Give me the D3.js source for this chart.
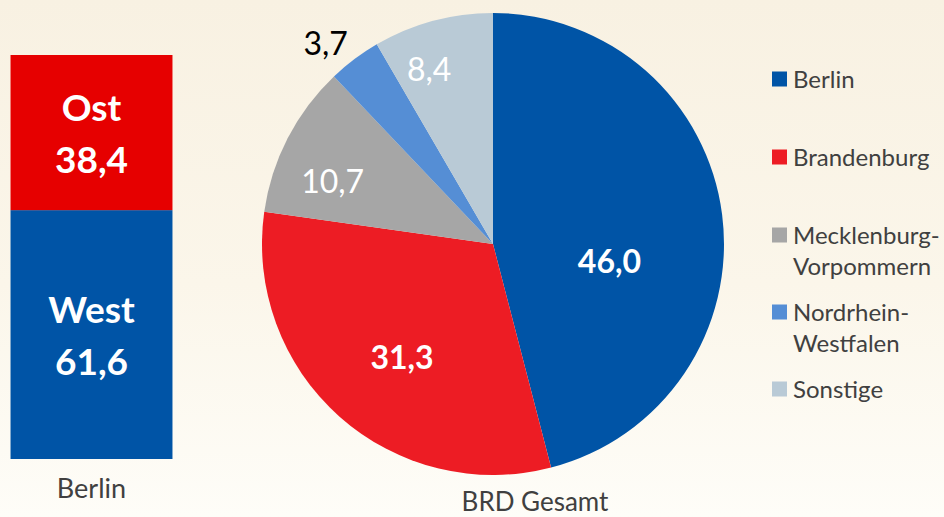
<!DOCTYPE html>
<html>
<head>
<meta charset="utf-8">
<script src="https://cdn.jsdelivr.net/npm/d3@7"></script>
<style>
  html, body { margin: 0; padding: 0; }
  body { width: 944px; height: 517px; overflow: hidden; }
  svg text { font-family: Lato, "Open Sans", sans-serif; }
</style>
</head>
<body>
<svg id="chart" width="944" height="517"></svg>
<script>
// stacked bar: Berlin
const barCategories = ["West", "Ost"];
const barValues = [61.6, 38.4];
const barLabel = "Berlin";

// pie: BRD Gesamt
const pieCategories = ["Berlin", "Brandenburg", "Mecklenburg-Vorpommern", "Nordrhein-Westfalen", "Sonstige"];
const pieValues = [46.0, 31.3, 10.7, 3.7, 8.4];
const pieLabel = "BRD Gesamt";

const legendLines = [["Berlin"], ["Brandenburg"], ["Mecklenburg-", "Vorpommern"], ["Nordrhein-", "Westfalen"], ["Sonstige"]];

const width = 944, height = 517;
const fmt = v => d3.format(".1f")(v).replace(".", ",");

const barColors = { West: "#0054a6", Ost: "#e60000" };
const pieColors = ["#0054a6", "#ed1c24", "#a6a6a6", "#558ed5", "#b9cad6"];

const svg = d3.select("#chart");

// background gradient
const defs = svg.append("defs");
const grad = defs.append("linearGradient").attr("id", "bg").attr("x1", 0).attr("y1", 0).attr("x2", 0).attr("y2", 1);
grad.append("stop").attr("offset", "0%").attr("stop-color", "#f8f1e2");
grad.append("stop").attr("offset", "55%").attr("stop-color", "#fbf6ea");
grad.append("stop").attr("offset", "100%").attr("stop-color", "#fefdf8");
svg.append("rect").attr("width", width).attr("height", height).attr("fill", "url(#bg)");

// ---- stacked bar
const y = d3.scaleLinear().domain([0, 100]).range([459, 55]);
const x = d3.scaleBand().domain([barLabel]).range([0, 183]).paddingInner(0).paddingOuter(0.065);

let acc = 0;
const stacked = barCategories.map((c, i) => {
  const d = { name: c, value: barValues[i], y0: acc, y1: acc + barValues[i] };
  acc += barValues[i];
  return d;
});

const bar = svg.append("g");
bar.selectAll("rect")
  .data(stacked)
  .enter()
  .append("rect")
  .attr("x", x(barLabel))
  .attr("width", x.bandwidth())
  .attr("y", d => y(d.y1))
  .attr("height", d => y(d.y0) - y(d.y1))
  .attr("fill", d => barColors[d.name]);

const barText = bar.selectAll("text.seg")
  .data(stacked)
  .enter()
  .append("text")
  .attr("class", "seg")
  .attr("text-anchor", "middle")
  .attr("fill", "white")
  .style("font-weight", "bold")
  .style("font-size", "37px");
barText.append("tspan")
  .attr("x", x(barLabel) + x.bandwidth() / 2)
  .attr("y", d => y((d.y0 + d.y1) / 2) - 12)
  .text(d => d.name);
barText.append("tspan")
  .attr("x", x(barLabel) + x.bandwidth() / 2)
  .attr("dy", 52)
  .text(d => fmt(d.value));

svg.append("text")
  .attr("x", x(barLabel) + x.bandwidth() / 2)
  .attr("y", 498)
  .attr("text-anchor", "middle")
  .attr("fill", "#404040")
  .style("font-size", "27px")
  .text(barLabel);

// ---- pie
const cx = 493, cy = 244, radius = 231;
const pie = d3.pie().sort(null).value(d => d);
const arc = d3.arc().innerRadius(0).outerRadius(radius);
const slices = pie(pieValues);

const g = svg.append("g").attr("transform", `translate(${cx},${cy})`);
g.selectAll("path")
  .data(slices)
  .enter()
  .append("path")
  .attr("d", arc)
  .attr("fill", (d, i) => pieColors[i]);

// label placement per slice: radius fraction and angle nudge (degrees)
const labelR = [0.51, 0.63, 0.745, 1.13, 0.805];
const labelTurn = [16, -3, -6, -3, -5];
const labelBold = [true, true, false, false, false];
const labelFill = ["white", "white", "white", "black", "white"];

g.selectAll("text.lbl")
  .data(slices)
  .enter()
  .append("text")
  .attr("class", "lbl")
  .attr("transform", (d, i) => {
    const a = (d.startAngle + d.endAngle) / 2 + labelTurn[i] * Math.PI / 180;
    const r = radius * labelR[i];
    return `translate(${r * Math.sin(a)},${-r * Math.cos(a)})`;
  })
  .attr("text-anchor", "middle")
  .attr("dy", "0.36em")
  .attr("fill", (d, i) => labelFill[i])
  .style("font-weight", (d, i) => labelBold[i] ? "bold" : "normal")
  .style("font-size", "32px")
  .text(d => fmt(d.data));

svg.append("text")
  .attr("x", 535)
  .attr("y", 511)
  .attr("text-anchor", "middle")
  .attr("fill", "#404040")
  .style("font-size", "26px")
  .text(pieLabel);

// ---- legend
const legendY = [79, 157, 235, 312, 389];
const legend = svg.append("g");
legendLines.forEach((lines, i) => {
  legend.append("rect")
    .attr("x", 772).attr("y", legendY[i] - 7.5)
    .attr("width", 15).attr("height", 15)
    .attr("fill", pieColors[i]);
  const t = legend.append("text")
    .attr("fill", "#404040")
    .style("font-size", "24px");
  lines.forEach((ln, j) => {
    t.append("tspan")
      .attr("x", 793)
      .attr("y", legendY[i] + 8.5 + j * 31)
      .text(ln);
  });
});
</script>
</body>
</html>
